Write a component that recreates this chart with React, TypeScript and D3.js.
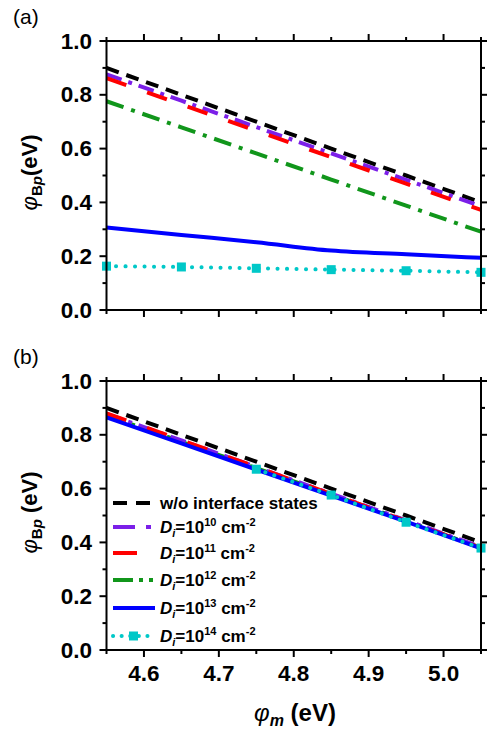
import React from "react";
import * as d3 from "d3";

// Work function of the metal (eV)
const phiM = [4.55, 4.65, 4.75, 4.85, 4.95, 5.05];

// (a) barrier height phi_Bp (eV) for each interface-state density
const aNone = [0.9, 0.8, 0.7, 0.6, 0.5, 0.4];
const aD10 = [0.876, 0.778, 0.680, 0.582, 0.484, 0.386];
const aD11 = [0.862, 0.764, 0.666, 0.568, 0.470, 0.372];
const aD12 = [0.776, 0.679, 0.582, 0.485, 0.388, 0.291];
const aD13 = [0.307, 0.279, 0.252, 0.221, 0.207, 0.194];
const aD14 = [0.163, 0.160, 0.155, 0.150, 0.146, 0.140];

// (b) barrier height phi_Bp (eV)
const bNone = [0.9, 0.8, 0.7, 0.6, 0.5, 0.4];
const bD10 = [0.878, 0.779, 0.680, 0.581, 0.482, 0.383];
const bD11 = [0.880, 0.780, 0.680, 0.580, 0.480, 0.380];
const bD12 = [0.872, 0.774, 0.676, 0.578, 0.480, 0.380];
const bD13 = [0.865, 0.768, 0.671, 0.574, 0.477, 0.378];
const bD14x = [4.75, 4.85, 4.95, 5.05];
const bD14 = [0.672, 0.576, 0.475, 0.379];

const xTicks = [4.6, 4.7, 4.8, 4.9, 5.0];
const yTicks = [0.0, 0.2, 0.4, 0.6, 0.8, 1.0];
const legendExps = ["10", "11", "12", "13", "14"];

type Style = { color: string; dash?: string; legendDash?: string; cap?: "butt" | "round"; marker?: boolean };
const styles: Style[] = [
  { color: "#000000", dash: "13 8", legendDash: "14 9", cap: "butt" },
  { color: "#7b1fe8", dash: "16 7 4 7", legendDash: "22 11 5 20", cap: "butt" },
  { color: "#ff0000", dash: "21 22", legendDash: "24 40", cap: "butt" },
  { color: "#11961b", dash: "18 8 4 8", legendDash: "20 6 4 6 4 20", cap: "butt" },
  { color: "#0000ff", cap: "butt" },
  { color: "#00c8c8", dash: "0.1 9.4", legendDash: "0.1 8.5", cap: "round", marker: true },
];

const FONT = "'Liberation Sans', Arial, sans-serif";

const x = d3.scaleLinear().domain([4.55, 5.05]).range([106.5, 481]);

function Panel({ top, series, label, title }: {
  top: number;
  series: { xs: number[]; ys: number[]; s: Style; smooth?: boolean }[];
  label: string;
  title: string;
}) {
  const y = d3.scaleLinear().domain([0, 1]).range([top + 269, top]);
  const line = d3.line<[number, number]>().x((d) => x(d[0])).y((d) => y(d[1]));
  const smoothLine = d3.line<[number, number]>().x((d) => x(d[0])).y((d) => y(d[1])).curve(d3.curveMonotoneX);
  const minorX = d3.range(4.55, 5.06, 0.1).map((v) => +v.toFixed(2));
  const minorY = [0.1, 0.3, 0.5, 0.7, 0.9];
  const [x0, x1] = x.range();
  const [yb, yt] = y.range();
  return (
    <g>
      <text x={13} y={top - 17} fontFamily={FONT} fontSize={21}>{label}</text>
      <defs>
        <clipPath id={"clip" + label}>
          <rect x={x0} y={yt - 6} width={x1 - x0 + 6} height={yb - yt + 6} />
        </clipPath>
      </defs>
      <g clipPath={`url(#clip${label})`}>
        {series.map((sr, i) => {
          const pts = sr.xs.map((v, j) => [v, sr.ys[j]] as [number, number]);
          return (
            <g key={i}>
              <path d={(sr.smooth ? smoothLine(pts) : line(pts)) || ""} fill="none" stroke={sr.s.color} strokeWidth={4}
                strokeDasharray={sr.s.dash} strokeLinecap={sr.s.cap} />
              {sr.s.marker && pts.map((p, j) => (
                <rect key={j} x={x(p[0]) - 4.5} y={y(p[1]) - 4.5} width={9} height={9} fill={sr.s.color} />
              ))}
            </g>
          );
        })}
      </g>
      {/* frame */}
      <rect x={x0} y={yt} width={x1 - x0} height={yb - yt} fill="none" stroke="#000" strokeWidth={2} />
      {xTicks.map((t) => (
        <g key={"xt" + t}>
          <line x1={x(t)} x2={x(t)} y1={yb} y2={yb + 7} stroke="#000" strokeWidth={2} />
          <line x1={x(t)} x2={x(t)} y1={yt} y2={yt - 7} stroke="#000" strokeWidth={2} />
        </g>
      ))}
      {minorX.map((t) => (
        <g key={"xm" + t}>
          <line x1={x(t)} x2={x(t)} y1={yb} y2={yb + 4} stroke="#000" strokeWidth={2} />
          <line x1={x(t)} x2={x(t)} y1={yt} y2={yt - 4} stroke="#000" strokeWidth={2} />
        </g>
      ))}
      {yTicks.map((t) => (
        <g key={"yt" + t}>
          <line x1={x0} x2={x0 - 7} y1={y(t)} y2={y(t)} stroke="#000" strokeWidth={2} />
          <line x1={x1} x2={x1 + 7} y1={y(t)} y2={y(t)} stroke="#000" strokeWidth={2} />
          <text x={92} y={y(t) + 7.5} textAnchor="end" fontFamily={FONT} fontWeight="bold" fontSize={22.5}>
            {t.toFixed(1)}
          </text>
        </g>
      ))}
      {minorY.map((t) => (
        <g key={"ym" + t}>
          <line x1={x0} x2={x0 - 4} y1={y(t)} y2={y(t)} stroke="#000" strokeWidth={2} />
          <line x1={x1} x2={x1 + 4} y1={y(t)} y2={y(t)} stroke="#000" strokeWidth={2} />
        </g>
      ))}
      <text transform={`translate(37,${(yt + yb) / 2 - 3}) rotate(-90)`} textAnchor="middle"
        fontFamily={FONT} fontWeight="bold" fontSize={22}>
        <tspan fontStyle="italic" fontWeight="normal">φ</tspan>
        <tspan fontSize={15} dy={5}>B</tspan>
        <tspan fontSize={15} fontStyle="italic">p</tspan>
        <tspan dy={-5}>{title}</tspan>
      </text>
    </g>
  );
}

export default function App() {
  const topA = 41;
  const topB = 381;
  const seriesA = [aNone, aD10, aD11, aD12, aD13, aD14].map((ys, i) => ({ xs: phiM, ys, s: styles[i], smooth: i === 4 }));
  const seriesB = [
    { xs: phiM, ys: bNone, s: styles[0] },
    { xs: phiM, ys: bD12, s: styles[3] },
    { xs: phiM, ys: bD10, s: styles[1] },
    { xs: phiM, ys: bD11, s: styles[2] },
    { xs: phiM, ys: bD13, s: styles[4] },
    { xs: bD14x, ys: bD14, s: styles[5] },
  ];
  const legY = [503, 527, 553, 580, 608, 636];
  return (
    <svg width={487} height={736} style={{ position: "absolute", left: 0, top: 0, background: "#fff" }}>
      <Panel top={topA} series={seriesA} label="(a)" title="(eV)" />
      <Panel top={topB} series={seriesB} label="(b)" title=" (eV)" />
      {xTicks.map((t) => (
        <text key={t} x={x(t)} y={681} textAnchor="middle" fontFamily={FONT} fontWeight="bold" fontSize={22.5}>
          {t.toFixed(1)}
        </text>
      ))}
      <text x={295} y={721} textAnchor="middle" fontFamily={FONT} fontWeight="bold" fontSize={24}>
        <tspan fontStyle="italic" fontWeight="normal">φ</tspan>
        <tspan fontStyle="italic" fontSize={16} dy={5}>m</tspan>
        <tspan dy={-5}> (eV)</tspan>
      </text>
      {/* legend */}
      {styles.map((s, i) => (
        <g key={"lg" + i}>
          <line x1={113} x2={155} y1={legY[i]} y2={legY[i]} stroke={s.color} strokeWidth={4}
            strokeDasharray={s.legendDash} strokeLinecap={s.cap} />
          {s.marker && <rect x={129} y={legY[i] - 4.5} width={9} height={9} fill={s.color} />}
          {i === 0 ? (
            <text x={160} y={legY[i] + 6} fontFamily={FONT} fontWeight="bold" fontSize={17}>w/o interface states</text>
          ) : (
            <text x={160} y={legY[i] + 6} fontFamily={FONT} fontWeight="bold" fontSize={17}>
              <tspan fontStyle="italic">D</tspan>
              <tspan fontStyle="italic" fontSize={11} dy={4}>i</tspan>
              <tspan dy={-4}>=10</tspan>
              <tspan fontSize={11} dy={-7}>{legendExps[i - 1]}</tspan>
              <tspan dy={7}> cm</tspan>
              <tspan fontSize={11} dy={-7}>-2</tspan>
            </text>
          )}
        </g>
      ))}
    </svg>
  );
}
